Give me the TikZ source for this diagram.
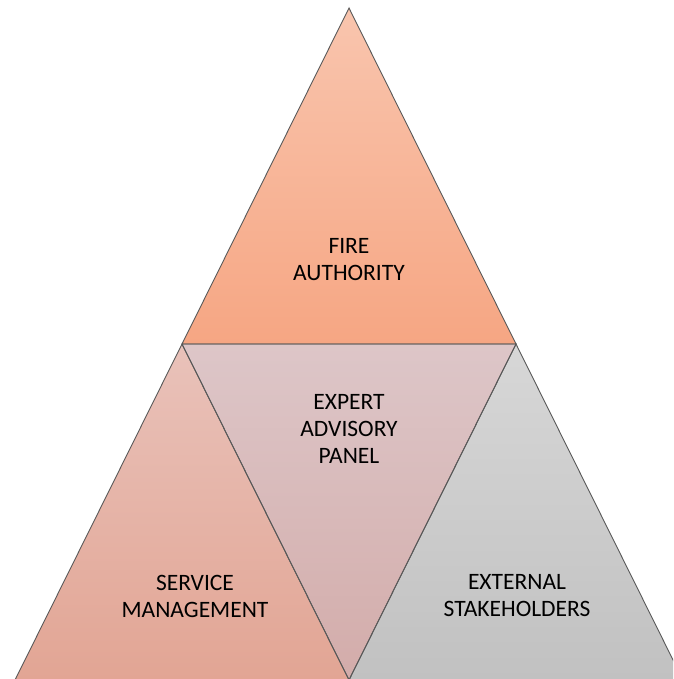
\documentclass[tikz,border=0pt]{standalone}
\usepackage{fontspec}
\setmainfont{Carlito}
\begin{document}
\begin{tikzpicture}[x=1pt,y=1pt,
  tri/.style={draw=black!65,line width=0.9pt,line join=miter},
  lbl/.style={align=center,font=\fontsize{23.5}{27}\selectfont,text=black}]
\useasboundingbox (0,0) rectangle (673,-679);
\clip (0,0) rectangle (673,-679);
\coordinate (T) at (349,-8);
\coordinate (L) at (182,-344);
\coordinate (R) at (516,-344);
\coordinate (BL) at (15,-680);
\coordinate (BM) at (349,-680);
\coordinate (BR) at (683,-680);
% top triangle
\shade[top color={rgb,255:red,249;green,197;blue,174},bottom color={rgb,255:red,246;green,166;blue,131}] (T) -- (L) -- (R) -- cycle;
% left triangle
\shade[top color={rgb,255:red,233;green,194;blue,186},bottom color={rgb,255:red,226;green,165;blue,148}] (L) -- (BL) -- (BM) -- cycle;
% right triangle
\shade[top color={rgb,255:red,215;green,215;blue,215},bottom color={rgb,255:red,193;green,193;blue,193}] (R) -- (BM) -- (BR) -- cycle;
% middle inverted triangle
\shade[top color={rgb,255:red,221;green,198;blue,200},bottom color={rgb,255:red,211;green,172;blue,170}] (L) -- (R) -- (BM) -- cycle;
\draw[tri] (T) -- (L) -- (R) -- cycle;
\draw[tri] (L) -- (BL) -- (BM) -- cycle;
\draw[tri] (R) -- (BM) -- (BR) -- cycle;
\draw[tri] (L) -- (R) -- (BM) -- cycle;
\node[lbl] (fa) at (349,-260) {FIRE\\AUTHORITY};
\node[lbl] (eap) at (349,-429) {EXPERT\\ADVISORY\\PANEL};
\node[lbl] (sm) at (195,-596) {SERVICE\\MANAGEMENT};
\node[lbl] (es) at (517,-596) {EXTERNAL\\STAKEHOLDERS};
\end{tikzpicture}
\end{document}
